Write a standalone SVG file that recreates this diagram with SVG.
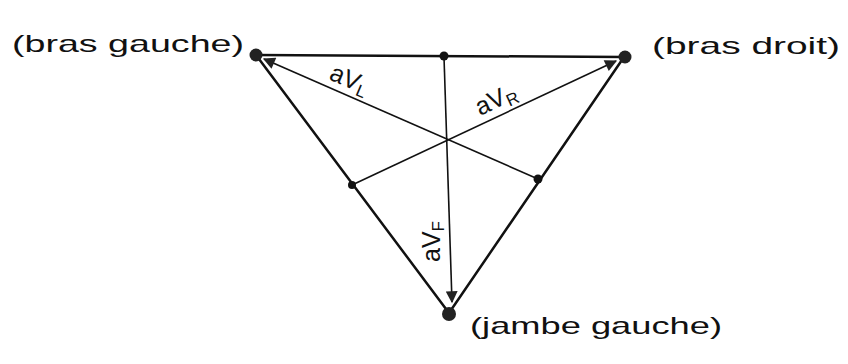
<svg xmlns="http://www.w3.org/2000/svg" width="848" height="364" viewBox="0 0 848 364">
<style>
.side{stroke:#111;stroke-width:2.5;fill:none;stroke-linecap:round}
.lead{stroke:#111;stroke-width:1.6;fill:none}
.lbl{font-family:"Liberation Sans","DejaVu Sans",sans-serif;font-size:24px;fill:#111}
.ax{font-family:"Liberation Sans","DejaVu Sans",sans-serif;font-size:25px;fill:#111}
.vtx{fill:#222}
.mid{fill:#111}
</style>
<defs>
<marker id="ah" viewBox="0 0 10 10" refX="9" refY="5" markerWidth="15" markerHeight="12" markerUnits="userSpaceOnUse" orient="auto">
<path d="M0,0 L10,5 L0,10 z" fill="#222"/>
</marker>
</defs>
<rect width="848" height="364" fill="#fff"/>
<g id="connectors">
<line class="side" x1="256" y1="55" x2="624" y2="57"/>
<line class="side" x1="256" y1="55" x2="449" y2="313"/>
<line class="side" x1="624" y1="57" x2="449" y2="313"/>
<line class="lead" x1="538" y1="179" x2="264" y2="59" marker-end="url(#ah)"/>
<line class="lead" x1="352" y1="185" x2="616" y2="61" marker-end="url(#ah)"/>
<line class="lead" x1="444" y1="57" x2="452" y2="302" marker-end="url(#ah)"/>
</g>
<g id="bras-gauche">
<circle class="vtx" cx="256" cy="55" r="6.5"/>
<text class="lbl" x="12" y="52" textLength="232" lengthAdjust="spacingAndGlyphs">(bras gauche)</text>
</g>
<g id="bras-droit">
<circle class="vtx" cx="625" cy="57" r="6.5"/>
<text class="lbl" x="652" y="54" textLength="188" lengthAdjust="spacingAndGlyphs">(bras droit)</text>
</g>
<g id="jambe-gauche">
<circle class="vtx" cx="449" cy="314" r="7"/>
<text class="lbl" x="470" y="334" textLength="252" lengthAdjust="spacingAndGlyphs">(jambe gauche)</text>
</g>
<g id="mid-top"><circle class="mid" cx="444" cy="56" r="4.5"/></g>
<g id="mid-left"><circle class="mid" cx="352" cy="185" r="4"/></g>
<g id="mid-right"><circle class="mid" cx="538" cy="179" r="4.5"/></g>
<g id="labels">
<text class="ax" transform="translate(328,79) rotate(23)">aV<tspan font-size="17" dy="4">L</tspan></text>
<text class="ax" transform="translate(480,116) rotate(-25)">aV<tspan font-size="17" dy="4">R</tspan></text>
<text class="ax" transform="translate(440,262) rotate(-90)">aV<tspan font-size="17" dy="4">F</tspan></text>
</g>
</svg>
